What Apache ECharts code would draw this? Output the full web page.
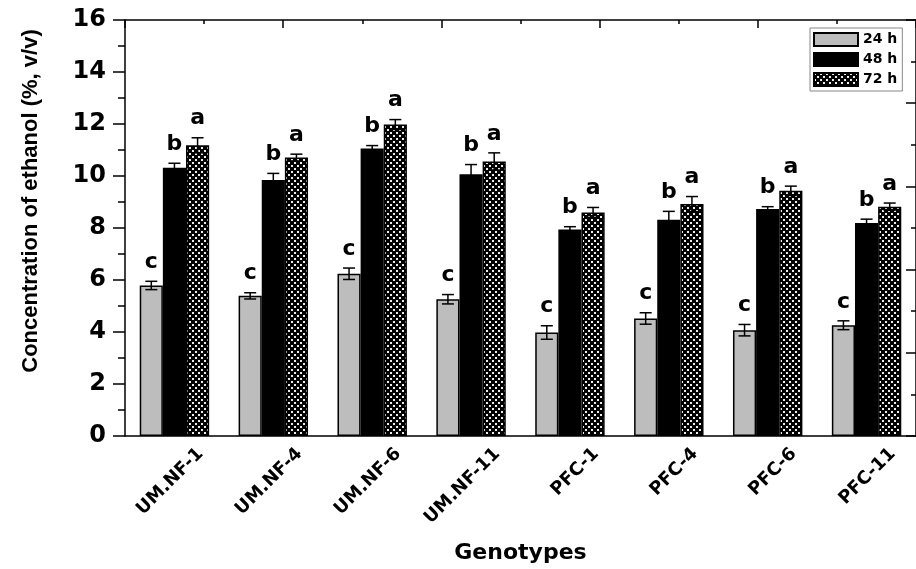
<!DOCTYPE html>
<html>
<head>
<meta charset="utf-8">
<script src="https://cdn.jsdelivr.net/npm/echarts@6/dist/echarts.min.js"></script>
<style>html,body{margin:0;padding:0;background:#fff}#c{width:916px;height:569px}</style>
</head>
<body>
<div id="c"></div>
<script>
const categories = ['UM.NF-1','UM.NF-4','UM.NF-6','UM.NF-11','PFC-1','PFC-4','PFC-6','PFC-11'];
const seriesNames = ['24 h','48 h','72 h'];
const h24 = [5.79, 5.39, 6.24, 5.26, 3.98, 4.52, 4.07, 4.26];
const h48 = [10.32, 9.85, 11.06, 10.07, 7.94, 8.32, 8.73, 8.19];
const h72 = [11.18, 10.71, 11.98, 10.56, 8.60, 8.92, 9.43, 8.82];
const err24 = [0.16, 0.12, 0.22, 0.18, 0.26, 0.22, 0.22, 0.17];
const err48 = [0.17, 0.25, 0.11, 0.37, 0.11, 0.32, 0.09, 0.15];
const err72 = [0.29, 0.13, 0.19, 0.33, 0.19, 0.29, 0.18, 0.14];
const letters24 = ['c','c','c','c','c','c','c','c'];
const letters48 = ['b','b','b','b','b','b','b','b'];
const letters72 = ['a','a','a','a','a','a','a','a'];
const yTicks = [0, 2, 4, 6, 8, 10, 12, 14, 16];

const BOLD = 'DejaVu Sans';
const BAR_FRAC = 0.234;

// dotted pattern for 72 h bars
const tile = document.createElement('canvas');
tile.width = 6; tile.height = 6;
const tc = tile.getContext('2d');
tc.fillStyle = '#000'; tc.fillRect(0,0,6,6);
tc.fillStyle = '#ececec';
tc.fillRect(0,0,2,2); tc.fillRect(3,3,2,2);
const dotPattern = {image: tile, repeat: 'repeat'};

const fills = ['#bdbdbd', '#000000', dotPattern];
const values = [h24, h48, h72];
const errs = [err24, err48, err72];
const letters = [letters24, letters48, letters72];

const chart = echarts.init(document.getElementById('c'), null, {renderer: 'canvas'});

const series = [];
values.forEach((vals, i) => {
  series.push({
    name: seriesNames[i], type: 'bar', xAxisIndex: 0, yAxisIndex: 0,
    barWidth: (BAR_FRAC*100) + '%', barGap: '0%',
    itemStyle: {color: fills[i], borderColor: '#000', borderWidth: 1.5},
    data: vals
  });
});
values.forEach((vals, i) => {
  series.push({
    name: 'err' + i, type: 'custom', xAxisIndex: 0, yAxisIndex: 0, z: 5,
    data: vals.map((v, k) => [k, v, errs[i][k], letters[i][k]]),
    renderItem: function(params, api) {
      const k = api.value(0), v = api.value(1), e = api.value(2);
      const band = api.size([1, 0])[0];
      const off = (i - 1) * band * BAR_FRAC;
      const top = api.coord([k, v + e]);
      const bot = api.coord([k, v - e]);
      const cx = top[0] + off;
      const cap = 6;
      const st = {stroke: '#000', lineWidth: 1.5};
      return {type: 'group', children: [
        {type: 'line', shape: {x1: cx, y1: top[1], x2: cx, y2: bot[1]}, style: st},
        {type: 'line', shape: {x1: cx - cap, y1: top[1], x2: cx + cap, y2: top[1]}, style: st},
        {type: 'line', shape: {x1: cx - cap, y1: bot[1], x2: cx + cap, y2: bot[1]}, style: st},
        {type: 'text', style: {text: letters[i][k], x: cx, y: top[1] - 8, textAlign: 'center', textVerticalAlign: 'bottom',
          font: 'bold 22px "' + BOLD + '"', fill: '#000'}}
      ]};
    }
  });
});

chart.setOption({
  animation: false,
  backgroundColor: '#fff',
  grid: {left: 125, right: -4, top: 20, bottom: 131, containLabel: false},
  legend: {
    data: seriesNames, orient: 'vertical', left: 810, top: 28,
    icon: 'rect', itemWidth: 44, itemHeight: 13, itemGap: 5,
    padding: [4, 5, 4, 3], borderColor: '#888', borderWidth: 1,
    textStyle: {fontFamily: BOLD, fontWeight: 'bold', fontSize: 14, color: '#000'},
    selectedMode: false
  },
  xAxis: [
    {type: 'category', data: categories, position: 'bottom', gridIndex: 0,
     axisLine: {lineStyle: {color: '#000', width: 1.5}},
     axisTick: {alignWithLabel: true, length: 9, lineStyle: {color: '#000', width: 1.5}},
     axisLabel: {rotate: 45, margin: -11, verticalAlign: 'top', align: 'right', lineHeight: 18, padding: [28, 0, 0, 0],
       fontFamily: BOLD, fontWeight: 'bold', fontSize: 18, color: '#000', interval: 0},
     name: 'Genotypes', nameLocation: 'middle', nameGap: 106,
     nameTextStyle: {fontFamily: BOLD, fontWeight: 'bold', fontSize: 22, color: '#000'}
    },
    {type: 'category', data: categories, position: 'bottom', gridIndex: 0,
     axisLine: {show: false},
     axisTick: {alignWithLabel: false, length: 4, lineStyle: {color: '#000', width: 1.5}},
     axisLabel: {show: false}
    },
    {type: 'value', min: 0, max: 10, interval: 2, position: 'top', gridIndex: 0,
     axisLine: {show: true, lineStyle: {color: '#000', width: 1.5}},
     axisTick: {show: true, inside: true, length: 8, lineStyle: {color: '#000', width: 1.5}},
     minorTick: {show: true, splitNumber: 2, length: 4, lineStyle: {color: '#000', width: 1.5}},
     axisLabel: {show: false}, splitLine: {show: false}
    }
  ],
  yAxis: [
    {type: 'value', min: 0, max: 16, interval: 2, position: 'left',
     axisLine: {show: true, lineStyle: {color: '#000', width: 1.5}},
     axisTick: {show: true, length: 12, lineStyle: {color: '#000', width: 1.5}},
     minorTick: {show: true, splitNumber: 2, length: 7, lineStyle: {color: '#000', width: 1.5}},
     axisLabel: {margin: 19, fontFamily: BOLD, fontWeight: 'bold', fontSize: 24, color: '#000',
       formatter: v => yTicks.includes(v) ? String(v) : ''},
     splitLine: {show: false}
    },
    {type: 'value', min: 0, max: 10, interval: 2, position: 'right',
     axisLine: {show: true, lineStyle: {color: '#000', width: 1.5}},
     axisTick: {show: true, inside: true, length: 10, lineStyle: {color: '#000', width: 1.5}},
     minorTick: {show: true, splitNumber: 2, length: 5, lineStyle: {color: '#000', width: 1.5}},
     axisLabel: {show: false}, splitLine: {show: false}
    }
  ],
  graphic: [
    {type: 'text', x: 31, y: 201, rotation: Math.PI / 2,
     style: {text: 'Concentration of ethanol (%, v/v)', font: 'bold 22px "Liberation Sans"', fill: '#000',
       textAlign: 'center', textVerticalAlign: 'middle'}}
  ],
  series: series
});
</script>
</body>
</html>
